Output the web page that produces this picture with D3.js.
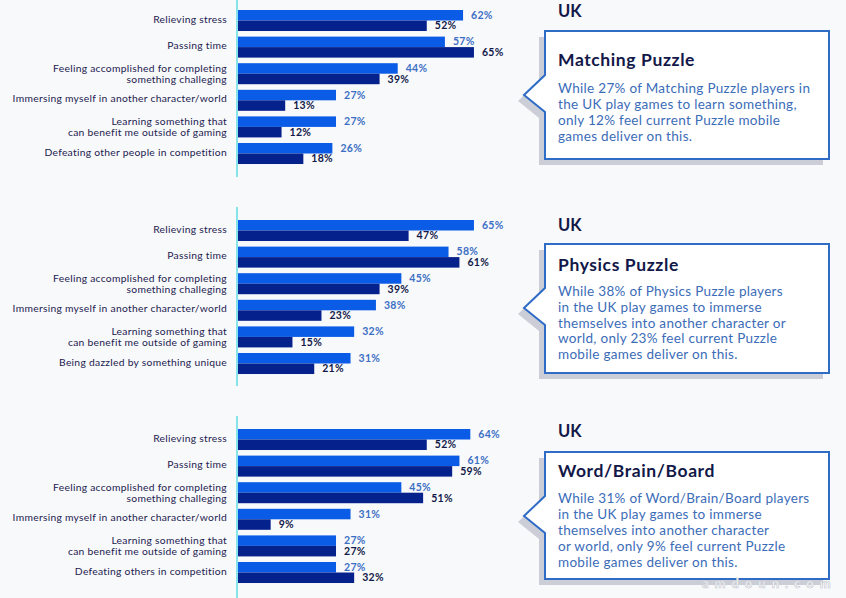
<!DOCTYPE html>
<html><head><meta charset="utf-8">
<script src="https://cdn.jsdelivr.net/npm/d3@7"></script>
<style>
html,body{margin:0;padding:0;background:#f8f9fb;}
svg{display:block;font-family:Lato,"Noto Sans",sans-serif;}
</style></head>
<body>
<script>
// ---------- DATA ----------
const categoriesMatching = ["Relieving stress","Passing time","Feeling accomplished for completing\nsomething challeging","Immersing myself in another character/world","Learning something that\ncan benefit me outside of gaming","Defeating other people in competition"];
const playMatching = [62,57,44,27,27,26];
const deliverMatching = [52,65,39,13,12,18];

const categoriesPhysics = ["Relieving stress","Passing time","Feeling accomplished for completing\nsomething challeging","Immersing myself in another character/world","Learning something that\ncan benefit me outside of gaming","Being dazzled by something unique"];
const playPhysics = [65,58,45,38,32,31];
const deliverPhysics = [47,61,39,23,15,21];

const categoriesWord = ["Relieving stress","Passing time","Feeling accomplished for completing\nsomething challeging","Immersing myself in another character/world","Learning something that\ncan benefit me outside of gaming","Defeating others in competition"];
const playWord = [64,61,45,31,27,27];
const deliverWord = [52,59,51,9,27,32];

const regionLabel = "UK";
const boxTitles = ["Matching Puzzle","Physics Puzzle","Word/Brain/Board"];
const boxTexts = [
  ["While 27% of Matching Puzzle players in","the UK play games to learn something,","only 12% feel current Puzzle mobile","games deliver on this."],
  ["While 38% of Physics Puzzle players","in the UK play games to immerse","themselves into another character or","world, only 23% feel current Puzzle","mobile games deliver on this."],
  ["While 31% of Word/Brain/Board players","in the UK play games to immerse","themselves into another character","or world, only 9% feel current Puzzle","mobile games deliver on this."]
];

// ---------- LAYOUT ----------
const W = 846, H = 598;
const panels = [
  {cats: categoriesMatching, a: playMatching, b: deliverMatching, top: 10, axisTop: -2, axisBot: 177, uk: 17, boxT: 31, boxB: 159, titleY: 66, bodyY: 93, lh: 16},
  {cats: categoriesPhysics, a: playPhysics, b: deliverPhysics, top: 220, axisTop: 207, axisBot: 386, uk: 231, boxT: 244, boxB: 373, titleY: 271, bodyY: 296, lh: 15.8},
  {cats: categoriesWord, a: playWord, b: deliverWord, top: 429, axisTop: 416, axisBot: 600, uk: 437, boxT: 452, boxB: 579, titleY: 477, bodyY: 503, lh: 16}
];
const colLight = "#0a5be6", colDark = "#05218c";
const colLightTxt = "#3c6fc4", colDarkTxt = "#111a48", colLabel = "#1c2150";

const svg = d3.select("body").append("svg").attr("width", W).attr("height", H);
svg.append("rect").attr("width", W).attr("height", H).attr("fill", "#f8f9fb");

const x = d3.scaleLinear().domain([0, 100]).range([238, 601]);
const step = 26.6, inner = 0.21;

panels.forEach((p, pi) => {
  const g = svg.append("g");
  const y = d3.scaleBand().domain(p.cats)
    .range([p.top, p.top + step * (p.cats.length - inner)])
    .paddingInner(inner).paddingOuter(0);
  const half = y.bandwidth() / 2;

  // bars
  g.selectAll(".la").data(p.cats).enter().append("rect")
    .attr("x", x(0)).attr("y", d => y(d))
    .attr("width", (d, i) => x(p.a[i]) - x(0)).attr("height", half)
    .attr("fill", colLight);
  g.selectAll(".da").data(p.cats).enter().append("rect")
    .attr("x", x(0)).attr("y", d => y(d) + half)
    .attr("width", (d, i) => x(p.b[i]) - x(0)).attr("height", half)
    .attr("fill", colDark);

  // value labels
  g.selectAll(".lt").data(p.cats).enter().append("text")
    .attr("x", (d, i) => x(p.a[i]) + 8).attr("y", d => y(d) + half / 2 + 3.6)
    .attr("font-size", 10.5).attr("font-weight", 700).attr("letter-spacing", 0.3).attr("fill", colLightTxt)
    .text((d, i) => p.a[i] + "%");
  g.selectAll(".dt").data(p.cats).enter().append("text")
    .attr("x", (d, i) => x(p.b[i]) + 8).attr("y", d => y(d) + half * 1.5 + 3.6)
    .attr("font-size", 10.5).attr("font-weight", 700).attr("letter-spacing", 0.3).attr("fill", colDarkTxt)
    .text((d, i) => p.b[i] + "%");

  // axis line
  g.append("line").attr("x1", x(0) - 1).attr("x2", x(0) - 1)
    .attr("y1", p.axisTop).attr("y2", p.axisBot)
    .attr("stroke", "#86e3ea").attr("stroke-width", 2);

  // category labels
  p.cats.forEach(c => {
    const lines = c.split("\n");
    const cy = y(c) + y.bandwidth() / 2;
    const t = g.append("text").attr("text-anchor", "end").attr("x", 227)
      .attr("font-size", 10.3).attr("letter-spacing", 0.28).attr("fill", colLabel);
    if (lines.length === 1) {
      t.attr("y", cy + 2).text(lines[0]);
    } else {
      lines.forEach((ln, li) => t.append("tspan").attr("x", 227).attr("y", cy - 1.5 + li * 10.5).text(ln));
    }
  });

  // callout box
  const L = 545, R = 829, T = p.boxT, B = p.boxB;
  const boxPath = (dx, dy) => {
    const pts = [[L, T], [R, T], [R, B], [L, B], [L, T + 81], [524, T + 64], [L, T + 44]];
    return "M" + pts.map(q => [q[0] + dx, q[1] + dy].join(",")).join("L") + "Z";
  };
  svg.append("path").attr("d", boxPath(-6, 6)).attr("fill", "#cbced6");
  svg.append("path").attr("d", boxPath(0, 0)).attr("fill", "#ffffff")
    .attr("stroke", "#2f6cc6").attr("stroke-width", 2).attr("stroke-linejoin", "miter");

  svg.append("text").attr("x", 558).attr("y", p.uk).attr("font-size", 16.5).attr("font-weight", 700)
    .attr("fill", "#121848").text(regionLabel);
  svg.append("text").attr("x", 558).attr("y", p.titleY).attr("font-size", 17.5).attr("font-weight", 700)
    .attr("letter-spacing", 0.6).attr("fill", "#121848").text(boxTitles[pi]);
  boxTexts[pi].forEach((ln, li) => {
    svg.append("text").attr("x", 558).attr("y", p.bodyY + li * p.lh).attr("font-size", 13.5)
      .attr("letter-spacing", 0.3).attr("fill", "#3b6cb8").text(ln);
  });
});

// watermark
svg.append("text").attr("x", 702).attr("y", 588).attr("font-size", 13).attr("font-weight", 700)
  .attr("letter-spacing", 6).attr("fill", "#ffffff").attr("stroke", "#c3c7cf").attr("stroke-width", 0.6)
  .text("amdoun.com");
</script>
</body></html>
